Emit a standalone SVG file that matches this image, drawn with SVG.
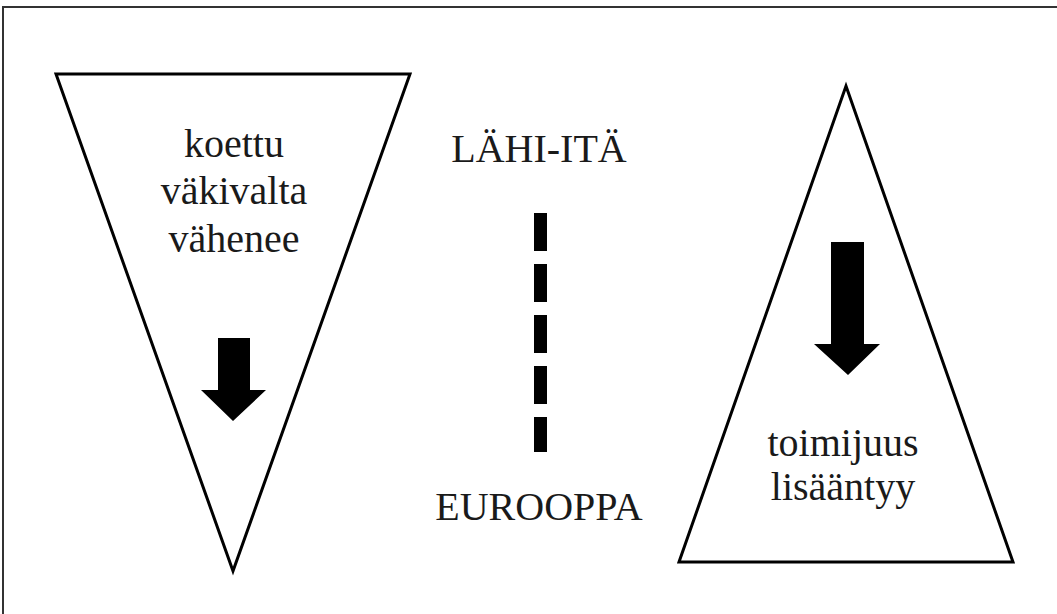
<svg xmlns="http://www.w3.org/2000/svg" width="1057" height="614" viewBox="0 0 1057 614">
<style>
.tri{fill:#fff;stroke:#000;stroke-width:3;stroke-linejoin:miter}
.lbl{font-family:"Liberation Serif","Times New Roman",serif;font-size:40px;fill:#1a1a1a;text-anchor:middle}
.arr{fill:#000}
</style>
<rect width="1057" height="614" fill="#fff"/>
<path d="M3,614 V7 H1057" fill="none" stroke="#333" stroke-width="2"/>
<g id="left-triangle">
<polygon class="tri" points="56,74 410,74 233,571"/>
<text class="lbl" x="234" y="157">koettu</text>
<text class="lbl" x="234" y="204">väkivalta</text>
<text class="lbl" x="234" y="252">vähenee</text>
<polygon class="arr" points="218,338 250,338 250,390 266,390 233,421 201,390 218,390"/>
</g>
<g id="middle">
<text class="lbl" x="539" y="162">LÄHI-ITÄ</text>
<text class="lbl" x="539" y="520">EUROOPPA</text>
</g>
<g id="connectors">
<line x1="540.5" y1="213" x2="540.5" y2="452" stroke="#000" stroke-width="13" stroke-dasharray="38,13"/>
</g>
<g id="right-triangle">
<polygon class="tri" points="846,86 1013,562 679,562"/>
<polygon class="arr" points="831,242 864,242 864,344 880,344 848,375 814,344 831,344"/>
<text class="lbl" x="843" y="456">toimijuus</text>
<text class="lbl" x="843" y="500">lisääntyy</text>
</g>
</svg>
